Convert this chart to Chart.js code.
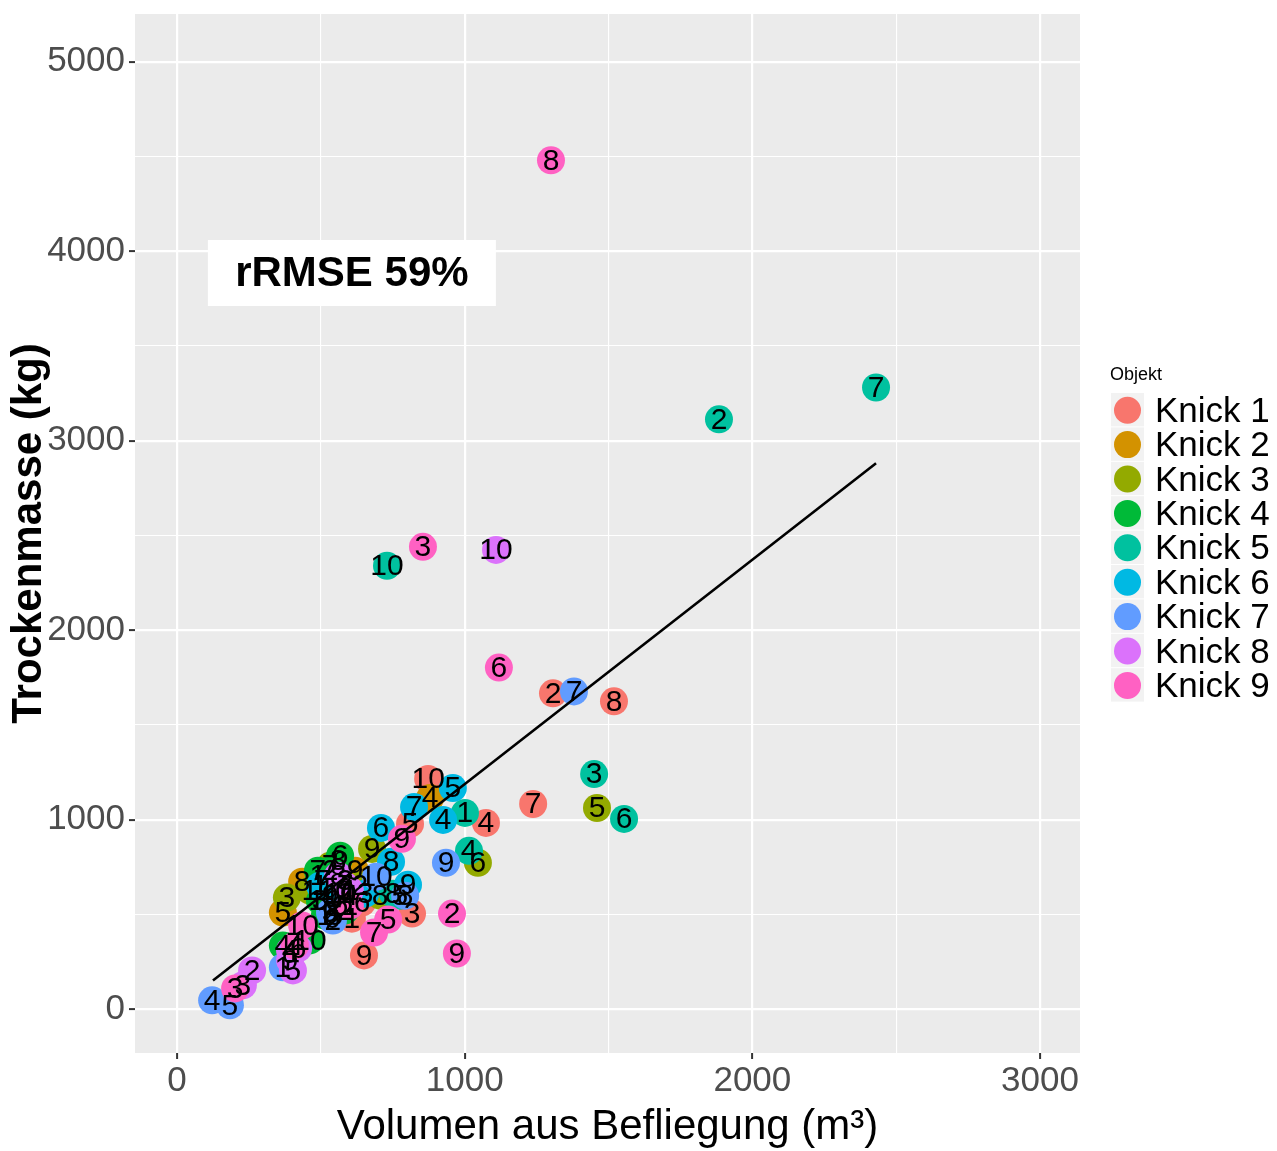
<!DOCTYPE html>
<html>
<head>
<meta charset="utf-8">
<script src="https://cdn.jsdelivr.net/npm/chart.js@4.4.1/dist/chart.umd.min.js"></script>
<style>
html, body { margin: 0; padding: 0; background: #fff; }
canvas { display: block; }
</style>
</head>
<body>
<canvas id="chart" width="1277" height="1151"></canvas>
<script>
// Objekte und Farben (ggplot hue)
var knicks = ['Knick 1', 'Knick 2', 'Knick 3', 'Knick 4', 'Knick 5', 'Knick 6', 'Knick 7', 'Knick 8', 'Knick 9'];
var farben = ['#F8766D', '#D39200', '#93AA00', '#00BA38', '#00C19F', '#00B9E3', '#619CFF', '#DB72FB', '#FF61C3'];

// Volumen aus Befliegung (m3), je Knick
var volumen = [
    [608, 1307, 817, 1074, 810, 643, 1238, 1519, 650, 873],
    [490, 532, 584, 880, 368, 567, 504, 435, 619, 514],
    [462, 636, 382, 601, 1460, 1046, 532, 706, 678, 549],
    [514, 584, 497, 368, 549, 567, 490, 560, 532, 462],
    [1001, 1884, 1450, 1015, 775, 1554, 2430, 751, 532, 730],
    [497, 584, 654, 925, 959, 709, 824, 744, 803, 567],
    [368, 542, 532, 122, 184, 539, 1380, 793, 935, 692],
    [601, 261, 229, 393, 403, 421, 584, 560, 393, 1109],
    [601, 956, 855, 410, 734, 1119, 685, 1300, 973, 435, 782, 202]
];
// Trockenmasse (kg), je Knick
var masse = [
    [478, 1667, 505, 983, 978, 563, 1083, 1625, 284, 1215],
    [705, 731, 678, 1115, 510, 547, 678, 673, 731, 573],
    [626, 652, 589, 599, 1062, 773, 757, 599, 846, 626],
    [494, 520, 573, 336, 494, 810, 731, 783, 599, 363],
    [1036, 3113, 1241, 836, 599, 1004, 3281, 610, 510, 2340],
    [652, 610, 610, 999, 1167, 957, 1067, 778, 657, 610],
    [221, 468, 510, 47, 21, 478, 1677, 599, 773, 699],
    [626, 205, 126, 310, 205, 321, 652, 705, 258, 2424],
    [547, 505, 2440, 336, 473, 1803, 405, 4480, 294, 442, 899, 110]
];
// Punktnummern (Beschriftung)
var nummer = [
    ['1', '2', '3', '4', '5', '6', '7', '8', '9', '10'],
    ['1', '2', '3', '4', '5', '6', '7', '8', '9', '10'],
    ['1', '2', '3', '4', '5', '6', '7', '8', '9', '10'],
    ['1', '2', '3', '4', '5', '6', '7', '8', '9', '10'],
    ['1', '2', '3', '4', '5', '6', '7', '8', '9', '10'],
    ['1', '2', '3', '4', '5', '6', '7', '8', '9', '10'],
    ['1', '2', '3', '4', '5', '6', '7', '8', '9', '10'],
    ['1', '2', '3', '4', '5', '6', '7', '8', '9', '10'],
    ['1', '2', '3', '4', '5', '6', '7', '8', '9', '10', '9', '3']
];

// Regressionsgerade
var linieX = [125, 2430];
var linieY = [152, 2881];

var xTicks = [0, 500, 1000, 1500, 2000, 2500, 3000];
var yTicks = [0, 500, 1000, 1500, 2000, 2500, 3000, 3500, 4000, 4500, 5000];

var rmseText = 'rRMSE 59%';
var rmsePos = { x: 608, y: 3885 };

Chart.defaults.font.family = '"Liberation Sans", Arial, sans-serif';

var datasets = knicks.map(function(name, i) {
    return {
        label: name,
        data: volumen[i].map(function(v, j) { return { x: v, y: masse[i][j] }; }),
        backgroundColor: farben[i],
        borderWidth: 0,
        pointRadius: 14,
        pointHoverRadius: 14,
        order: 10 - i
    };
});
datasets.push({
    label: 'fit',
    data: linieX.map(function(v, j) { return { x: v, y: linieY[j] }; }),
    showLine: true,
    borderColor: '#000',
    borderWidth: 2.6,
    pointRadius: 0,
    fill: false,
    order: 0
});

function isMajor(ctx) {
    return ctx.tick && ctx.tick.value % 1000 === 0;
}

var gridOpts = {
    color: '#ffffff',
    lineWidth: function(ctx) { return isMajor(ctx) ? 2.2 : 1.1; },
    tickColor: function(ctx) { return isMajor(ctx) ? '#333333' : 'rgba(0,0,0,0)'; },
    tickWidth: 2,
    tickLength: 6,
    drawTicks: true
};

var panelPlugin = {
    id: 'panel',
    beforeDraw: function(chart) {
        var c = chart.ctx, a = chart.chartArea;
        c.save();
        c.fillStyle = '#ffffff';
        c.fillRect(0, 0, chart.width, chart.height);
        c.fillStyle = '#EBEBEB';
        c.fillRect(a.left, a.top, a.right - a.left, a.bottom - a.top);
        c.restore();
    }
};

var labelPlugin = {
    id: 'punktLabels',
    afterDatasetsDraw: function(chart) {
        var c = chart.ctx;
        c.save();
        c.fillStyle = '#000';
        c.font = '30px "Liberation Sans", Arial, sans-serif';
        c.textAlign = 'center';
        c.textBaseline = 'middle';
        for (var i = 0; i < knicks.length; i++) {
            var meta = chart.getDatasetMeta(i);
            meta.data.forEach(function(pt, j) {
                c.fillText(nummer[i][j], pt.x, pt.y + 1);
            });
        }
        // rRMSE box
        var bx = chart.scales.x.getPixelForValue(rmsePos.x);
        var by = chart.scales.y.getPixelForValue(rmsePos.y);
        c.fillStyle = '#fff';
        c.fillRect(bx - 144, by - 33, 288, 66);
        c.fillStyle = '#000';
        c.font = 'bold 42px "Liberation Sans", Arial, sans-serif';
        c.fillText(rmseText, bx, by + 1);
        c.restore();
    }
};

var legendPlugin = {
    id: 'objektLegende',
    afterDraw: function(chart) {
        var c = chart.ctx;
        var x0 = 1111, y0 = 393, h = 34.4;
        c.save();
        c.fillStyle = '#000';
        c.font = '18px "Liberation Sans", Arial, sans-serif';
        c.textAlign = 'left';
        c.textBaseline = 'middle';
        c.fillText('Objekt', 1110, 375);
        knicks.forEach(function(name, i) {
            var top = y0 + i * h;
            c.fillStyle = '#F2F2F2';
            c.fillRect(x0, top, 33, h - 1);
            c.beginPath();
            c.arc(x0 + 16.5, top + h / 2, 13.5, 0, Math.PI * 2);
            c.fillStyle = farben[i];
            c.fill();
            c.fillStyle = '#000';
            c.font = '35px "Liberation Sans", Arial, sans-serif';
            c.fillText(name, 1155, top + h / 2 + 2);
        });
        c.restore();
    }
};

new Chart(document.getElementById('chart'), {
    type: 'scatter',
    data: { datasets: datasets },
    plugins: [panelPlugin, labelPlugin, legendPlugin],
    options: {
        responsive: false,
        animation: false,
        events: [],
        layout: { padding: { top: 6, right: 197, left: 0, bottom: 0 } },
        plugins: { legend: { display: false }, tooltip: { enabled: false } },
        scales: {
            x: {
                type: 'linear',
                min: -146,
                max: 3139,
                afterBuildTicks: function(s) { s.ticks = xTicks.map(function(v) { return { value: v }; }); },
                afterFit: function(s) { s.height = 98; s.paddingLeft = 0; s.paddingRight = 0; },
                grid: gridOpts,
                border: { display: false },
                ticks: {
                    color: '#4D4D4D',
                    font: { size: 35 },
                    padding: 1,
                    maxRotation: 0,
                    autoSkip: false,
                    callback: function(v) { return v % 1000 === 0 ? String(v) : ''; }
                },
                title: {
                    display: true,
                    text: 'Volumen aus Befliegung (m³)',
                    color: '#000',
                    font: { size: 42 },
                    padding: { top: 0, bottom: -2 }
                }
            },
            y: {
                type: 'linear',
                min: -231,
                max: 5252,
                afterBuildTicks: function(s) { s.ticks = yTicks.map(function(v) { return { value: v }; }); },
                afterFit: function(s) { s.width = 135; s.paddingTop = 0; s.paddingBottom = 0; },
                grid: gridOpts,
                border: { display: false },
                ticks: {
                    color: '#4D4D4D',
                    font: { size: 35 },
                    padding: 4,
                    autoSkip: false,
                    callback: function(v) { return v % 1000 === 0 ? String(v) : ''; }
                },
                title: {
                    display: true,
                    text: 'Trockenmasse (kg)',
                    color: '#000',
                    font: { size: 42, weight: 'bold' },
                    padding: { top: 4, bottom: 0 }
                }
            }
        }
    }
});
</script>
</body>
</html>
